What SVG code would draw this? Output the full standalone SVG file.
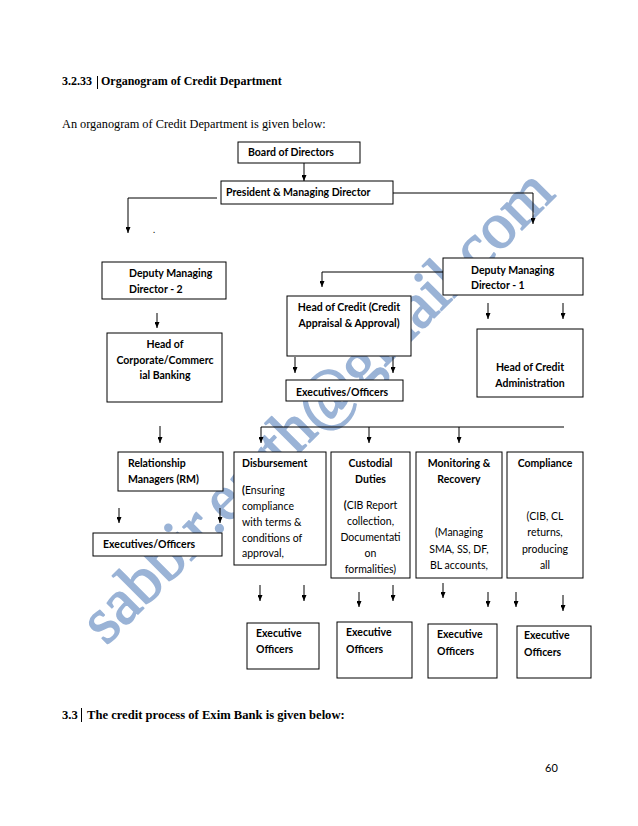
<svg xmlns="http://www.w3.org/2000/svg" width="638" height="826" viewBox="0 0 638 826">
<style>
.bg{fill:#ffffff}
.box{fill:#ffffff;stroke:#000;stroke-width:1}
.ln{fill:none;stroke:#000;stroke-width:1}
.arr{fill:none;stroke:#000;stroke-width:1;marker-end:url(#ah)}
.h{font-family:Lato,"Liberation Sans",sans-serif;font-size:10.5px;font-weight:bold;fill:#000}
.b{font-family:Lato,"Liberation Sans",sans-serif;font-size:10.5px;fill:#000}
.c{text-anchor:middle}
.doc{font-family:"Liberation Serif",serif;font-size:12.3px;fill:#000}
.docb{font-family:"Liberation Serif",serif;font-size:12px;font-weight:bold;fill:#000}
.wm{font-family:"Liberation Serif",serif;font-size:65px;fill:#9ab3d6;stroke:#9ab3d6;stroke-width:1.6;stroke-linejoin:round}
</style>
<defs>
<marker id="ah" viewBox="0 0 6 5" refX="6" refY="2.5" markerWidth="6" markerHeight="5" markerUnits="userSpaceOnUse" orient="auto">
<path d="M0,0 L6,2.5 L0,5 z" fill="#000"/>
</marker>
</defs>
<rect class="bg" x="0" y="0" width="638" height="826"/>

<g id="page-text">
<text class="docb" x="62" y="85">3.2.33</text>
<line class="ln" x1="97.5" y1="76" x2="97.5" y2="89"/>
<text class="docb" x="101" y="85">Organogram of Credit Department</text>
<text class="doc" x="62" y="128">An organogram of Credit Department is given below:</text>
<text class="docb" x="62" y="719" style="font-size:12.6px">3.3</text>
<line class="ln" x1="81.5" y1="708" x2="81.5" y2="722"/>
<text class="docb" x="87" y="719" style="font-size:12.6px">The credit process of Exim Bank is given below:</text>
<text class="b" x="545" y="772" style="font-size:11px">60</text>
</g>

<g id="watermark">
<text class="wm" transform="translate(106,646) rotate(-45)">sabbir.earth@gmail.com</text>
</g>

<g id="connectors">
<line class="arr" x1="304" y1="163" x2="304" y2="181"/>
<polyline class="arr" points="217,198 128,198 128,233"/>
<text class="b" x="153" y="233" style="font-size:9px">.</text>
<polyline class="arr" points="393,193 533,193 533,224"/>
<polyline class="arr" points="443,272 322,272 322,287"/>
<line class="arr" x1="157" y1="313" x2="157" y2="328"/>
<line class="arr" x1="295" y1="357" x2="295" y2="373"/>
<line class="arr" x1="393" y1="357" x2="393" y2="373"/>
<line class="arr" x1="488" y1="303" x2="488" y2="319"/>
<line class="arr" x1="563" y1="303" x2="563" y2="319"/>
<polyline class="arr" points="564,427 261,427 261,443"/>
<line class="arr" x1="369" y1="427" x2="369" y2="443"/>
<line class="arr" x1="459" y1="427" x2="459" y2="443"/>
<line class="arr" x1="160" y1="426" x2="160" y2="443"/>
<line class="arr" x1="119" y1="508" x2="119" y2="523"/>
<line class="arr" x1="220" y1="508" x2="220" y2="523"/>
<line class="arr" x1="260" y1="585" x2="260" y2="601"/>
<line class="arr" x1="304" y1="585" x2="304" y2="601"/>
<line class="arr" x1="359" y1="592" x2="359" y2="607"/>
<line class="arr" x1="393" y1="585" x2="393" y2="601"/>
<line class="arr" x1="443" y1="583" x2="443" y2="598"/>
<line class="arr" x1="488" y1="592" x2="488" y2="607"/>
<line class="arr" x1="516" y1="592" x2="516" y2="607"/>
<line class="arr" x1="563" y1="595" x2="563" y2="611"/>
</g>

<g id="board">
<rect class="box" x="238" y="142" width="122" height="21"/>
<text class="h" x="248" y="156">Board of Directors</text>
</g>
<g id="president">
<rect class="box" x="221" y="181" width="172" height="23"/>
<text class="h" x="226" y="196">President &amp; Managing Director</text>
</g>
<g id="dmd2">
<rect class="box" x="102" y="262" width="124" height="37"/>
<text class="h" x="129" y="277">Deputy Managing</text>
<text class="h" x="129" y="293">Director - 2</text>
</g>
<g id="head-corporate">
<rect class="box" x="107" y="333" width="115" height="69"/>
<text class="h c" x="165" y="348">Head of</text>
<text class="h c" x="165" y="364">Corporate/Commerc</text>
<text class="h c" x="165" y="379">ial Banking</text>
</g>
<g id="head-credit">
<rect class="box" x="287" y="296" width="124" height="60"/>
<text class="h c" x="349" y="311">Head of Credit (Credit</text>
<text class="h c" x="349" y="327">Appraisal &amp; Approval)</text>
</g>
<g id="exec-mid">
<rect class="box" x="286" y="380" width="117" height="21"/>
<text class="h" x="296" y="396">Executives/Officers</text>
</g>
<g id="dmd1">
<rect class="box" x="443" y="258" width="140" height="37"/>
<text class="h" x="471" y="274">Deputy Managing</text>
<text class="h" x="471" y="289">Director - 1</text>
</g>
<g id="head-credit-admin">
<rect class="box" x="477" y="329" width="106" height="68"/>
<text class="h c" x="530" y="371">Head of Credit</text>
<text class="h c" x="530" y="387">Administration</text>
</g>
<g id="rm">
<rect class="box" x="118" y="452" width="105" height="39"/>
<text class="h" x="128" y="467">Relationship</text>
<text class="h" x="128" y="483">Managers (RM)</text>
</g>
<g id="exec-left">
<rect class="box" x="93" y="533" width="129" height="23"/>
<text class="h" x="103" y="548">Executives/Officers</text>
</g>
<g id="disbursement">
<rect class="box" x="234" y="452" width="92" height="113"/>
<text class="h" x="242" y="467">Disbursement</text>
<text class="b" x="242" y="494"><tspan font-weight="bold">(</tspan>Ensuring</text>
<text class="b" x="242" y="510">compliance</text>
<text class="b" x="242" y="526">with terms &amp;</text>
<text class="b" x="242" y="542">conditions of</text>
<text class="b" x="242" y="557">approval,</text>
</g>
<g id="custodial">
<rect class="box" x="331" y="452" width="79" height="126"/>
<text class="h c" x="370.5" y="467">Custodial</text>
<text class="h c" x="370.5" y="483">Duties</text>
<text class="b c" x="370.5" y="509"><tspan font-weight="bold">(</tspan>CIB Report</text>
<text class="b c" x="370.5" y="525">collection,</text>
<text class="b c" x="370.5" y="541">Documentati</text>
<text class="b c" x="370.5" y="557">on</text>
<text class="b c" x="370.5" y="573">formalities)</text>
</g>
<g id="monitoring">
<rect class="box" x="416" y="452" width="86" height="126"/>
<text class="h c" x="459" y="467">Monitoring &amp;</text>
<text class="h c" x="459" y="483">Recovery</text>
<text class="b c" x="459" y="536">(Managing</text>
<text class="b c" x="459" y="553">SMA, SS, DF,</text>
<text class="b c" x="459" y="569">BL accounts,</text>
</g>
<g id="compliance">
<rect class="box" x="507" y="452" width="76" height="126"/>
<text class="h c" x="545" y="467">Compliance</text>
<text class="b c" x="545" y="520">(CIB, CL</text>
<text class="b c" x="545" y="536">returns,</text>
<text class="b c" x="545" y="553">producing</text>
<text class="b c" x="545" y="569">all</text>
</g>
<g id="exec-officers-1">
<rect class="box" x="247" y="623" width="72" height="46"/>
<text class="h" x="256" y="637">Executive</text>
<text class="h" x="256" y="653">Officers</text>
</g>
<g id="exec-officers-2">
<rect class="box" x="337" y="622" width="75" height="56"/>
<text class="h" x="346" y="636">Executive</text>
<text class="h" x="346" y="653">Officers</text>
</g>
<g id="exec-officers-3">
<rect class="box" x="428" y="624" width="69" height="54"/>
<text class="h" x="437" y="638">Executive</text>
<text class="h" x="437" y="655">Officers</text>
</g>
<g id="exec-officers-4">
<rect class="box" x="517" y="626" width="74" height="52"/>
<text class="h" x="524" y="639">Executive</text>
<text class="h" x="524" y="656">Officers</text>
</g>
</svg>
